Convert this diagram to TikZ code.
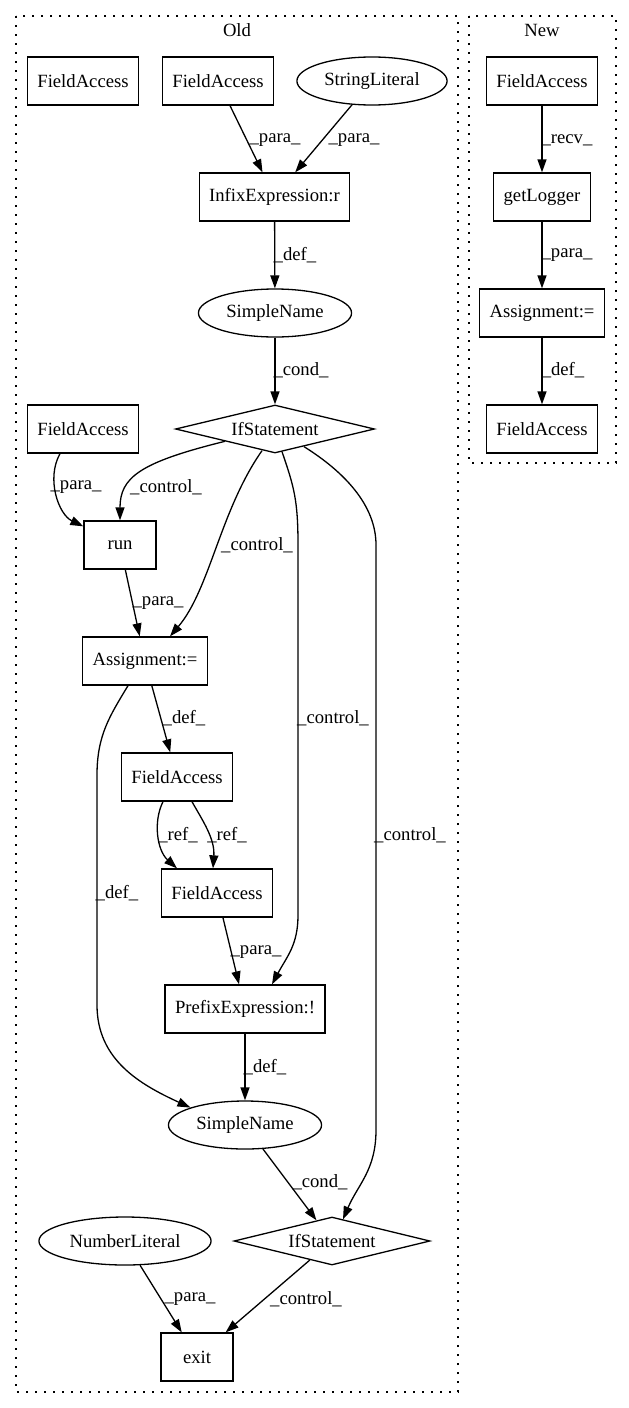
\documentclass[tikz,border=0pt]{standalone}
\usepackage{fontspec}
\setmainfont{Liberation Serif}
\usetikzlibrary{shapes.geometric,arrows.meta}
\tikzset{every picture/.style={line width=1.3pt}}
\tikzset{every node/.style={font=\fontsize{18.67}{22}\selectfont}}
\tikzset{box/.style={draw,rectangle,minimum width=72,minimum height=48,inner xsep=10}}
\tikzset{oval/.style={draw,ellipse,minimum height=48,inner xsep=5.4,inner ysep=0}}
\tikzset{cond/.style={draw,diamond,aspect=4.15,minimum width=199,minimum height=48,inner sep=0}}
\tikzset{lbl/.style={inner sep=0}}
\tikzset{edge/.style={draw,-{Triangle[length=13pt,width=9pt]}}}
\tikzset{clus/.style={dash pattern=on 2pt off 7pt}}

\begin{document}
\begin{tikzpicture}[x=1pt,y=-1pt]
    \useasboundingbox (0,0) rectangle (629,1408);
    % clusters
    \draw [clus] (16,16) rectangle (458,1392);
    \node (old) at (237,30) {Old};
    \draw [clus] (469,16) rectangle (616,463);
    \node (new) at (542,30) {New};

    % old
    \node [box] (fa1) at (83,81) {FieldAccess};
    \node [box] (fa2) at (218,81) {FieldAccess};
    \node [oval] (strlit) at (372,81) {StringLiteral};
    \node [box] (infix) at (274.5,197) {InfixExpression:r};
    \node [oval] (sn1) at (275,313) {SimpleName};
    \node [cond] (if1) at (275,429) {IfStatement};
    \node [box] (fa3) at (83,429) {FieldAccess};
    \node [box] (run) at (120,545) {run};
    \node [box] (asg) at (145,661) {Assignment:=};
    \node [box] (fa4) at (177,777) {FieldAccess};
    \node [box] (fa5) at (217,893) {FieldAccess};
    \node [box] (prefix) at (245,1009) {PrefixExpression:!};
    \node [oval] (sn2) at (245,1125) {SimpleName};
    \node [cond,minimum width=196] (if2) at (332,1241) {IfStatement};
    \node [oval] (numlit) at (125,1241) {NumberLiteral};
    \node [box] (exit) at (197,1357) {exit};

    % new
    \node [box] (nfa1) at (542,81) {FieldAccess};
    \node [box] (getlog) at (542,197) {getLogger};
    \node [box] (nasg) at (542,313) {Assignment:=};
    \node [box] (nfa2) at (542,429) {FieldAccess};

    \draw [edge] (fa2) -- (infix);
    \draw [edge] (strlit) -- (infix);
    \draw [edge] (infix) -- (sn1);
    \draw [edge] (sn1) -- (if1);
    \draw [edge] ([xshift=-23]fa3.south) .. controls +(-14,25) and +(-25,-12) .. ([yshift=-6]run.north west);
    \draw [edge] (if1.south west) .. controls +(-85,21) and +(0,-43) .. (run.north);
    \draw [edge] ([xshift=-13,yshift=3]if1.south) .. controls +(-42,60) and +(40,-47) .. ([xshift=25]asg.north);
    \draw [edge] ([xshift=7,yshift=2]if1.south) .. controls +(12,35) and +(0,-45) .. (298,545) -- (298,915)
        .. controls +(0,30) and +(15,-28) .. ([xshift=27]prefix.north);
    \draw [edge] ([xshift=29,yshift=7]if1.south) .. controls +(40,25) and +(0,-40) .. (376,545) -- (376,1130)
        .. controls +(0,40) and +(15,-35) .. ([xshift=11,yshift=-3]if2.north);
    \draw [edge] (run) -- (asg);
    \draw [edge] (asg) -- (fa4);
    \draw [edge] ([xshift=-17]asg.south) .. controls +(-18,30) and +(0,-40) .. (97,775) -- (97,1005)
        .. controls +(0,55) and +(-50,-23) .. (sn2.north west);
    \draw [edge] ([xshift=-14]fa4.south) .. controls +(-10,20) and +(-20,-18) .. ([xshift=-40]fa5.north);
    \draw [edge] ([xshift=15]fa4.south) .. controls +(10,18) and +(2,-30) .. ([xshift=-4]fa5.north);
    \draw [edge] (fa5) -- (prefix);
    \draw [edge] (prefix) -- (sn2);
    \draw [edge] (sn2) -- (if2);
    \draw [edge] (numlit) -- (exit);
    \draw [edge] (if2) -- (exit);
    \draw [edge] (nfa1) -- (getlog);
    \draw [edge] (getlog) -- (nasg);
    \draw [edge] (nasg) -- (nfa2);

    % edge labels
    \node [lbl] (l1) at (275,140) {\_para\_};
    \node [lbl] (l2) at (354,140) {\_para\_};
    \node [lbl] (l3) at (295,255) {\_def\_};
    \node [lbl] (l4) at (301,370) {\_cond\_};
    \node [lbl] (l5) at (76,487) {\_para\_};
    \node [lbl] (l6) at (166,487) {\_control\_};
    \node [lbl] (l7) at (257,545) {\_control\_};
    \node [lbl] (l8) at (158,603) {\_para\_};
    \node [lbl] (l9) at (184,718) {\_def\_};
    \node [lbl] (l10) at (333,718) {\_control\_};
    \node [lbl] (l11) at (410,835) {\_control\_};
    \node [lbl] (l12) at (178,835) {\_ref\_};
    \node [lbl] (l13) at (227,835) {\_ref\_};
    \node [lbl] (l14) at (117,893) {\_def\_};
    \node [lbl] (l15) at (256,952) {\_para\_};
    \node [lbl] (l16) at (265,1067) {\_def\_};
    \node [lbl] (l17) at (320,1182) {\_cond\_};
    \node [lbl] (l18) at (190,1299) {\_para\_};
    \node [lbl] (l19) at (306,1299) {\_control\_};
    \node [lbl] (l20) at (567,140) {\_recv\_};
    \node [lbl] (l21) at (567,255) {\_para\_};
    \node [lbl] (l22) at (563,370) {\_def\_};
\end{tikzpicture}
\end{document}
